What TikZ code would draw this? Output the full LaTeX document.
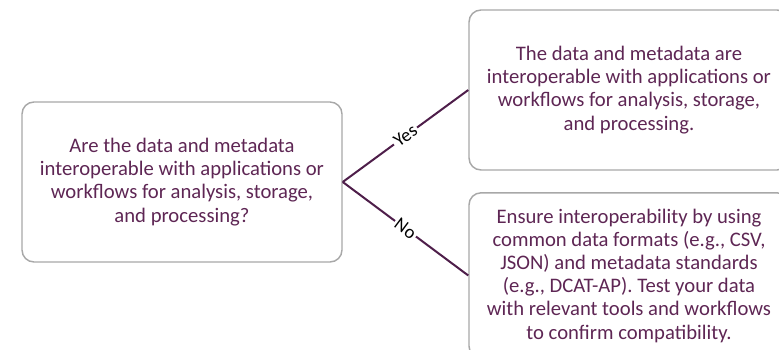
\documentclass[tikz,border=0pt]{standalone}
\usepackage{fontspec}
\setmainfont{Carlito}
\usetikzlibrary{positioning}
\definecolor{textpurple}{RGB}{94,38,84}
\definecolor{linepurple}{RGB}{78,30,74}
\definecolor{boxgray}{RGB}{168,168,168}

\begin{document}
\begin{tikzpicture}[x=0.75pt, y=0.75pt,
    box/.style={rectangle, rounded corners=9pt, draw=boxgray, line width=1.1pt,
        minimum width=240pt, minimum height=120pt, align=center,
        text=textpurple, font=\fontsize{15.5}{17.4}\selectfont},
    branch/.style={draw=linepurple, line width=1.5pt},
    answer/.style={fill=white, font=\fontsize{14}{16}\selectfont, sloped, inner sep=1.5pt}]
    \useasboundingbox (0,0) rectangle (779,350);
    \clip (0,0) rectangle (779,350);

    % Question
    \node[box] (question) at (182,168) {
        Are the data and metadata\\
        interoperable with applications or\\
        workflows for analysis, storage,\\
        and processing?
    };

    % Outcomes
    \node[box] (yesbox) at (629,260) {
        The data and metadata are\\
        interoperable with applications or\\
        workflows for analysis, storage,\\
        and processing.
    };
    \node[box, minimum height=124pt] (nobox) at (629,74.5) {
        Ensure interoperability by using\\
        common data formats (e.g., CSV,\\
        JSON) and metadata standards\\
        (e.g., DCAT-AP). Test your data\\
        with relevant tools and workflows\\
        to confirm compatibility.
    };

    % Branches
    \draw[branch] (question.east) -- node[answer] {Yes} (yesbox.west);
    \draw[branch] (question.east) -- node[answer] {No} (nobox.west);
\end{tikzpicture}
\end{document}
